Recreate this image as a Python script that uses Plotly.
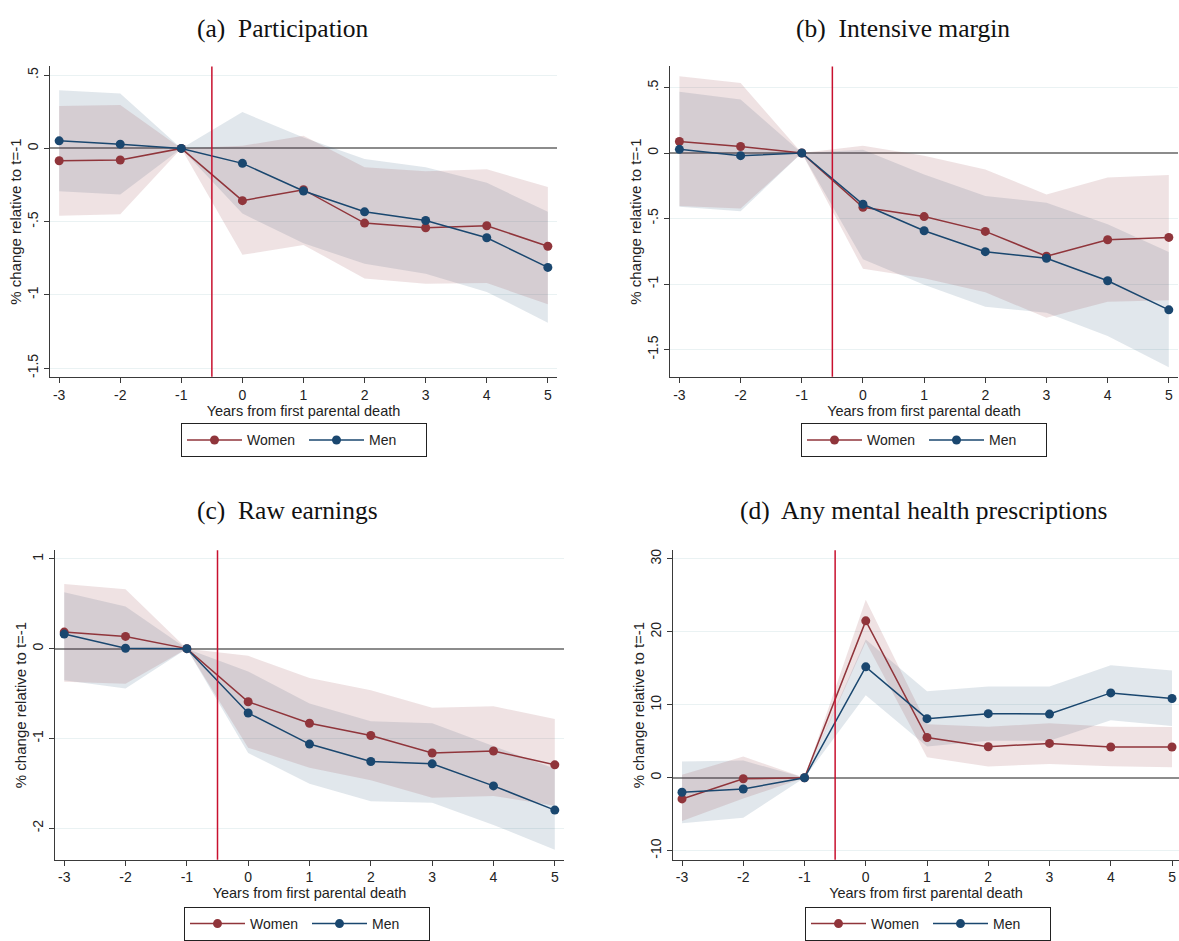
import plotly.graph_objects as go

YEARS = [-3, -2, -1, 0, 1, 2, 3, 4, 5]
EVENT_LINE = -0.5

# (a) Participation
A_W = [-0.084, -0.079, 0, -0.357, -0.282, -0.51, -0.542, -0.528, -0.668]
A_W_HI = [0.289, 0.296, 0, 0.018, 0.086, -0.129, -0.156, -0.142, -0.264]
A_W_LO = [-0.46, -0.449, 0, -0.727, -0.659, -0.889, -0.925, -0.919, -1.065]
A_M = [0.052, 0.029, 0, -0.102, -0.291, -0.433, -0.492, -0.61, -0.813]
A_M_HI = [0.397, 0.375, 0, 0.248, 0.075, -0.072, -0.129, -0.235, -0.433]
A_M_LO = [-0.293, -0.314, 0, -0.445, -0.648, -0.788, -0.856, -0.98, -1.19]

# (b) Intensive margin
B_W = [0.088, 0.05, 0, -0.414, -0.485, -0.598, -0.788, -0.662, -0.644]
B_W_HI = [0.586, 0.535, 0, 0.056, -0.02, -0.126, -0.316, -0.187, -0.167]
B_W_LO = [-0.404, -0.424, 0, -0.884, -0.955, -1.063, -1.258, -1.136, -1.124]
B_M = [0.028, -0.02, 0, -0.391, -0.593, -0.753, -0.803, -0.975, -1.197]
B_M_HI = [0.467, 0.409, 0, 0.025, -0.164, -0.328, -0.379, -0.543, -0.755]
B_M_LO = [-0.41, -0.444, 0, -0.811, -1.005, -1.174, -1.22, -1.396, -1.636]

# (c) Raw earnings
C_W = [0.184, 0.136, 0, -0.592, -0.831, -0.967, -1.162, -1.14, -1.294]
C_W_HI = [0.72, 0.66, 0, -0.08, -0.327, -0.463, -0.658, -0.643, -0.783]
C_W_LO = [-0.368, -0.39, 0, -1.103, -1.327, -1.467, -1.662, -1.64, -1.75]
C_M = [0.162, 0.004, 0, -0.717, -1.063, -1.257, -1.283, -1.529, -1.798]
C_M_HI = [0.629, 0.47, 0, -0.254, -0.61, -0.809, -0.831, -1.081, -1.338]
C_M_LO = [-0.353, -0.445, 0, -1.162, -1.504, -1.699, -1.717, -1.963, -2.239]

# (d) Any mental health prescriptions
D_W = [-2.9, -0.14, 0, 21.5, 5.52, 4.25, 4.71, 4.21, 4.21]
D_W_HI = [0.41, 2.9, 0, 24.4, 7.33, 7.0, 7.47, 7.0, 6.97]
D_W_LO = [-5.93, -2.85, 0, 18.6, 2.8, 1.54, 1.9, 1.58, 1.45]
D_M = [-1.99, -1.54, 0, 15.2, 8.1, 8.78, 8.73, 11.63, 10.86]
D_M_HI = [2.22, 2.35, 0, 18.96, 11.86, 12.49, 12.49, 15.43, 14.7]
D_M_LO = [-6.24, -5.48, 0, 11.31, 4.3, 5.07, 5.07, 7.87, 7.1]

TITLES = ["(a)  Participation", "(b)  Intensive margin",
          "(c)  Raw earnings", "(d)  Any mental health prescriptions"]
X_TITLE = "Years from first parental death"
Y_TITLE = "% change relative to t=-1"
SERIES = ["Women", "Men"]

Y_TICKS_AB = [0.5, 0, -0.5, -1, -1.5]
Y_TICKTEXT_AB = [".5", "0", "-.5", "-1", "-1.5"]
Y_TICKS_C = [1, 0, -1, -2]
Y_TICKTEXT_C = ["1", "0", "-1", "-2"]
Y_TICKS_D = [30, 20, 10, 0, -10]
Y_TICKTEXT_D = ["30", "20", "10", "0", "-10"]

W = 1179
H = 941
WOMEN_COLOR = "#90353b"
MEN_COLOR = "#1a476f"
WOMEN_FILL = "rgba(144,53,59,0.14)"
MEN_FILL = "rgba(26,71,111,0.13)"
VLINE_COLOR = "#c8102e"
GRID = "#eaf2f3"
AXIS = "#3a3a3a"
SANS = "Liberation Sans, Arial, sans-serif"
SERIF = "Liberation Serif, Times New Roman, serif"

panels = [
    dict(data=(A_W, A_W_HI, A_W_LO, A_M, A_M_HI, A_M_LO), px=(50, 557), py=(65, 378),
         xr=[-3.15, 5.15], yr=[-1.56, 0.56], yt=Y_TICKS_AB, ytt=Y_TICKTEXT_AB,
         title_x=283, title_y=27, leg_x=304, leg_y=425),
    dict(data=(B_W, B_W_HI, B_W_LO, B_M, B_M_HI, B_M_LO), px=(670, 1178), py=(65, 378),
         xr=[-3.154, 5.15], yr=[-1.708, 0.661], yt=Y_TICKS_AB, ytt=Y_TICKTEXT_AB,
         title_x=903, title_y=27, leg_x=924, leg_y=425),
    dict(data=(C_W, C_W_HI, C_W_LO, C_M, C_M_HI, C_M_LO), px=(55, 564), py=(553, 865),
         xr=[-3.15, 5.15], yr=[-2.35, 1.095], yt=Y_TICKS_C, ytt=Y_TICKTEXT_C,
         title_x=287, title_y=513, leg_x=307, leg_y=913),
    dict(data=(D_W, D_W_HI, D_W_LO, D_M, D_M_HI, D_M_LO), px=(673, 1179), py=(553, 865),
         xr=[-3.147, 5.114], yr=[-11.22, 31.17], yt=Y_TICKS_D, ytt=Y_TICKTEXT_D,
         title_x=924, title_y=513, leg_x=928, leg_y=913),
]

fig = go.Figure()
layout = dict(
    width=W, height=H, margin=dict(l=0, r=0, t=0, b=0),
    paper_bgcolor="white", plot_bgcolor="white",
    font=dict(family=SANS, size=14, color="#222"),
    showlegend=True, annotations=[], shapes=[],
)

for i, p in enumerate(panels):
    n = "" if i == 0 else str(i + 1)
    xa = "x" + n
    ya = "y" + n
    leg = "legend" + n
    w, whi, wlo, m, mhi, mlo = p["data"]
    common = dict(xaxis=xa, yaxis=ya, legend=leg)
    # confidence bands
    for lo, hi, fc in ((mlo, mhi, MEN_FILL), (wlo, whi, WOMEN_FILL)):
        fig.add_trace(go.Scatter(x=YEARS, y=lo, mode="lines", line=dict(width=0),
                                 showlegend=False, hoverinfo="skip", **common))
        fig.add_trace(go.Scatter(x=YEARS, y=hi, mode="lines", line=dict(width=0),
                                 fill="tonexty", fillcolor=fc,
                                 showlegend=False, hoverinfo="skip", **common))
    for name, vals, col in ((SERIES[0], w, WOMEN_COLOR), (SERIES[1], m, MEN_COLOR)):
        fig.add_trace(go.Scatter(x=YEARS, y=vals, mode="lines+markers", name=name,
                                 line=dict(color=col, width=1.5),
                                 marker=dict(color=col, size=9), **common))

    x0, x1 = p["px"]
    y0, y1 = p["py"]
    layout["xaxis" + n] = dict(
        domain=[x0 / W, x1 / W], anchor=ya, range=p["xr"],
        tickvals=YEARS, ticktext=[str(v) for v in YEARS],
        ticks="outside", ticklen=5, tickcolor=AXIS, showgrid=False, zeroline=False,
        showline=True, linecolor=AXIS, linewidth=1,
        tickfont=dict(size=14, family=SANS, color="#222"),
        title=dict(text=X_TITLE, font=dict(size=14.5, family=SANS, color="#222"), standoff=2),
    )
    layout["yaxis" + n] = dict(
        domain=[1 - y1 / H, 1 - y0 / H], anchor=xa, range=p["yr"],
        tickvals=p["yt"], ticktext=p["ytt"], tickangle=-90,
        ticks="outside", ticklen=5, tickcolor=AXIS,
        showgrid=True, gridcolor=GRID, gridwidth=1,
        zeroline=True, zerolinecolor="#8c8c8c", zerolinewidth=1.5,
        showline=True, linecolor=AXIS, linewidth=1,
        tickfont=dict(size=14, family=SANS, color="#222"),
        title=dict(text=Y_TITLE, font=dict(size=15, family=SANS, color="#222"), standoff=0),
    )
    layout[leg] = dict(
        orientation="h", x=p["leg_x"] / W, y=1 - p["leg_y"] / H,
        xanchor="center", yanchor="top", traceorder="normal",
        bordercolor="#222", borderwidth=1, bgcolor="white",
        font=dict(size=14, family=SANS, color="#222"),
        entrywidth=52, entrywidthmode="pixels", itemwidth=55,
        tracegroupgap=0,
    )
    layout["annotations"].append(dict(
        text=TITLES[i], x=p["title_x"] / W, y=1 - p["title_y"] / H,
        xref="paper", yref="paper", xanchor="center", yanchor="middle",
        showarrow=False, font=dict(size=25.5, family=SERIF, color="#111"),
    ))
    layout["shapes"].append(dict(
        type="line", xref=xa, yref=ya + " domain", x0=EVENT_LINE, x1=EVENT_LINE,
        y0=0, y1=1, line=dict(color=VLINE_COLOR, width=1.5),
    ))

fig.update_layout(**layout)
fig.write_html("out.html")
